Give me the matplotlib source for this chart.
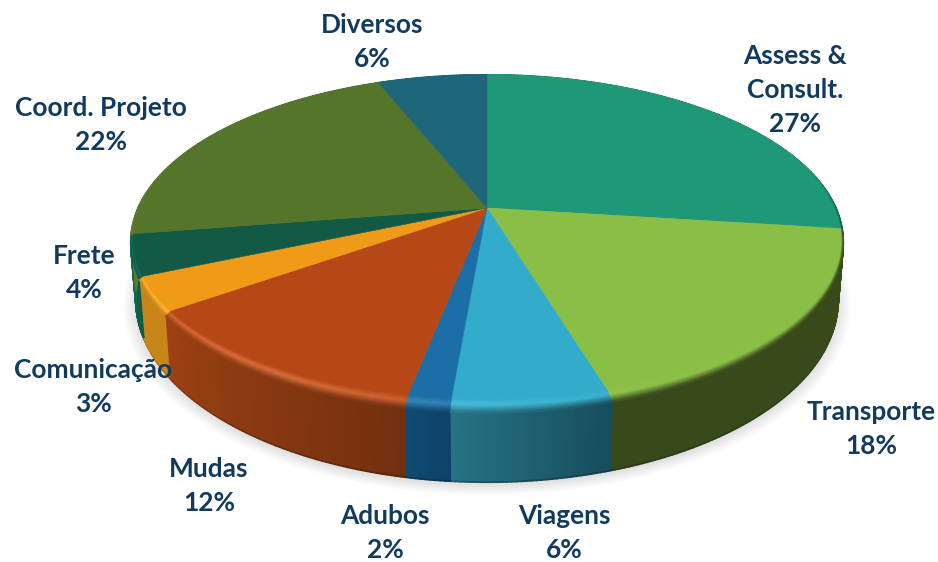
import numpy as np
import matplotlib
matplotlib.use("Agg")
import matplotlib.pyplot as plt
from matplotlib.collections import PolyCollection
from matplotlib.colors import to_rgb

categories = ["Assess &\nConsult.", "Transporte", "Viagens", "Adubos", "Mudas",
              "Comunicação", "Frete", "Coord. Projeto", "Diversos"]
values = [27.0, 18.33, 6.03, 1.69, 12.15, 3.3, 4.0, 21.5, 6.0]
face_colors = ["#1F9877", "#8ABF47", "#33ACCB", "#1C6EA6", "#B54816",
               "#EF9B18", "#125A46", "#55752A", "#1E677B"]
side_start = ["#0F5F4B", "#384A1B", "#174C5C", "#0F4268", "#72300F",
              "#C8851A", "#0E5A46", "#5A7A30", "#164E5E"]
side_end = ["#0F5F4B", "#384A1B", "#267484", "#0F4A70", "#9E4113",
            "#C8851A", "#0F6A50", "#5A7A30", "#164E5E"]
label_x = [795, 871, 564, 385, 209, 93, 84, 101, 372]
label_y = [90.5, 429, 533.5, 533.5, 486, 387.5, 273, 124.5, 42]

APEX_X, APEX_Y = 487.0, 208.0
K = 0.201
BEVEL_DROP = 5.0


def top(theta, r=1.0, drop=0.0):
    u, v = r * np.sin(theta), r * np.cos(theta)
    w = 1 + K * v
    return APEX_X + 349.0 * u / w, APEX_Y - 160.0 * v / w + drop


def bottom(theta, r=1.0, dy=0.0):
    u, v = r * np.sin(theta), r * np.cos(theta)
    w = 1 + K * v
    return APEX_X + 344.0 * u / w, 264.0 - 174.5 * v / w + dy


def r_flat(theta):
    return 1 - 0.006 - 0.03 * np.clip(-np.cos(theta), 0, 1) ** 2


def rim_drop(theta):
    return BEVEL_DROP * np.clip(-np.cos(theta), 0, 1)


def mix(a, b, t):
    a, b = np.array(a), np.array(b)
    return tuple(a + (b - a) * np.clip(t, 0, 1))


fig = plt.figure(figsize=(9.38, 5.62), dpi=100)
ax = fig.add_axes([0, 0, 1, 1])
ax.set_xlim(0, 938)
ax.set_ylim(562, 0)
ax.axis("off")

# angular extent of every slice, clockwise from twelve o'clock
shares = np.array(values) / np.sum(values)
edges = np.concatenate([[0], np.cumsum(shares)]) * 2 * np.pi

# soft shadow under the pie
circle = np.linspace(0, 2 * np.pi, 361)
for e in np.linspace(0.0, 0.035, 10):
    x, y = bottom(circle, 1 + e, 3.0)
    ax.fill(x, y, color="black", alpha=0.012, lw=0, zorder=1)

wall_polys, wall_cols = [], []
dark_polys, dark_cols = [], []
band_polys, band_cols = [], []
band_t = np.linspace(0, 1, 9)

for i, (t0, t1) in enumerate(zip(edges[:-1], edges[1:])):
    n = max(2, int(np.degrees(t1 - t0) * 1.5))
    th = np.linspace(t0, t1, n + 1)
    fc, s0, s1 = to_rgb(face_colors[i]), to_rgb(side_start[i]), to_rgb(side_end[i])
    for j in range(n):
        a, b = th[j], th[j + 1]
        f = (j + 0.5) / n
        side = mix(s0, s1, f)
        xa, ya = top(a, 1.0, rim_drop(a))
        xb, yb = top(b, 1.0, rim_drop(b))
        xc, yc = bottom(b)
        xd, yd = bottom(a)
        frac = 0.97
        xc2, yc2 = xb + (xc - xb) * frac, yb + (yc - yb) * frac
        xd2, yd2 = xa + (xd - xa) * frac, ya + (yd - ya) * frac
        wall_polys.append([(xa, ya), (xb, yb), (xc2, yc2), (xd2, yd2)])
        wall_cols.append(side)
        dark_polys.append([(xd2, yd2), (xc2, yc2), (xc, yc), (xd, yd)])
        dark_cols.append(mix(side, (0, 0, 0), 0.22))

        # rounded rim between the flat face and the wall
        mid = (a + b) / 2
        v = np.cos(mid)
        deg = np.degrees(mid)
        hl = 0.14 * np.exp(-((deg - 215) / 38.0) ** 2)
        front = np.clip((0.25 - v) / 0.35, 0, 1)
        light = tuple(np.clip(np.array(fc) + hl, 0, 1))
        for k in range(len(band_t) - 1):
            q0, q1 = band_t[k], band_t[k + 1]
            ra0, ra1 = r_flat(a), r_flat(b)
            p = [top(a, ra0 + (1 - ra0) * q0, rim_drop(a) * q0),
                 top(b, ra1 + (1 - ra1) * q0, rim_drop(b) * q0),
                 top(b, ra1 + (1 - ra1) * q1, rim_drop(b) * q1),
                 top(a, ra0 + (1 - ra0) * q1, rim_drop(a) * q1)]
            q = (q0 + q1) / 2
            if q < 0.4:
                col = mix(fc, light, q / 0.4)
            else:
                col = mix(light, side, (q - 0.4) / 0.6 * front)
            band_polys.append(p)
            band_cols.append(col)

ax.add_collection(PolyCollection(dark_polys, facecolors=dark_cols, edgecolors=dark_cols,
                                 linewidths=1.0, zorder=2))
ax.add_collection(PolyCollection(wall_polys, facecolors=wall_cols, edgecolors=wall_cols,
                                 linewidths=1.2, zorder=2.1))
ax.add_collection(PolyCollection(band_polys, facecolors=band_cols, edgecolors=band_cols,
                                 linewidths=0.5, zorder=3))

# flat top face
for i, (t0, t1) in enumerate(zip(edges[:-1], edges[1:])):
    th = np.linspace(t0, t1, max(3, int(np.degrees(t1 - t0) * 2)))
    x, y = top(th, r_flat(th))
    ax.fill(np.r_[APEX_X, x], np.r_[APEX_Y, y], facecolor=face_colors[i],
            edgecolor=face_colors[i], lw=0.4, zorder=4)

for name, val, lx, ly in zip(categories, values, label_x, label_y):
    ax.text(lx, ly, f"{name}\n{round(val)}%", ha="center", va="center", family="Lato",
            weight="bold", fontsize=18.9, color="#123A5E", linespacing=1.5, zorder=6)

fig.savefig("out.png", dpi=100, facecolor="white")
